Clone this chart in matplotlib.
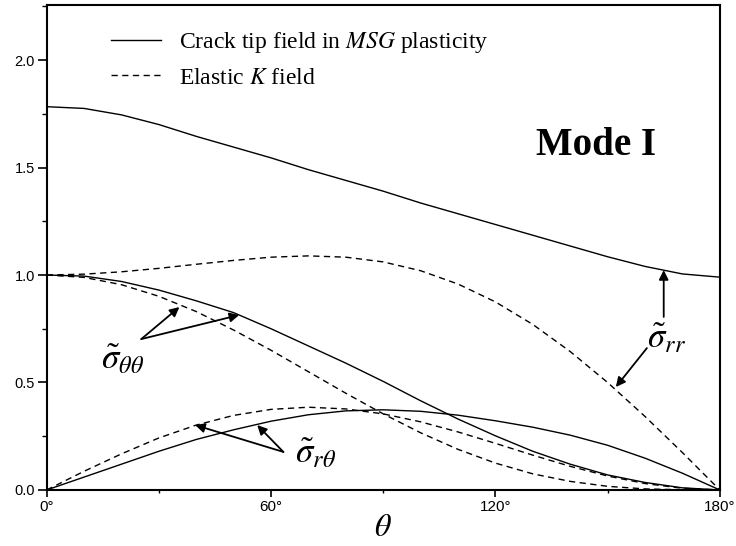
import matplotlib
matplotlib.use("Agg")
import matplotlib.pyplot as plt
from matplotlib.ticker import MultipleLocator, FixedLocator

plt.rcParams['mathtext.fontset'] = 'stix'
plt.rcParams['font.family'] = ['Liberation Serif', 'DejaVu Serif']

# angle (degrees)
theta = [0, 10, 20, 30, 40, 50, 60, 70, 80, 90,
         100, 110, 120, 130, 140, 150, 160, 170, 180]

# crack tip field in MSG plasticity (solid)
msg_rr = [1.783, 1.775, 1.745, 1.700, 1.645, 1.595, 1.545, 1.490, 1.440, 1.390,
          1.335, 1.285, 1.235, 1.185, 1.135, 1.085, 1.040, 1.005, 0.990]
msg_tt = [1.000, 0.995, 0.970, 0.930, 0.880, 0.825, 0.750, 0.670, 0.590, 0.505,
          0.415, 0.330, 0.252, 0.180, 0.120, 0.070, 0.035, 0.010, 0.000]
msg_rt = [0.000, 0.060, 0.120, 0.180, 0.235, 0.280, 0.320, 0.350, 0.368, 0.373,
          0.366, 0.348, 0.322, 0.292, 0.255, 0.208, 0.148, 0.078, 0.000]

# elastic K field (dashed)
k_rr = [1.000, 1.004, 1.015, 1.031, 1.050, 1.068, 1.083, 1.089, 1.083, 1.061,
        1.020, 0.958, 0.875, 0.770, 0.644, 0.500, 0.342, 0.174, 0.000]
k_tt = [1.000, 0.989, 0.955, 0.901, 0.830, 0.744, 0.650, 0.550, 0.450, 0.354,
        0.266, 0.189, 0.125, 0.075, 0.040, 0.017, 0.005, 0.001, 0.000]
k_rt = [0.000, 0.087, 0.168, 0.242, 0.302, 0.347, 0.375, 0.385, 0.377, 0.354,
        0.317, 0.270, 0.217, 0.162, 0.110, 0.065, 0.030, 0.008, 0.000]

x_ticks = [0, 60, 120, 180]
x_labels = ['0°', '60°', '120°', '180°']
y_ticks = [0.0, 0.5, 1.0, 1.5, 2.0]
y_labels = ['0.0', '0.5', '1.0', '1.5', '2.0']

fig = plt.figure(figsize=(7.36, 5.46), dpi=100)
ax = fig.add_axes([0.0634, 0.1026, 0.9146, 0.8882])

lw = 1.0
dash = (4.5, 3.2)
ax.plot(theta, msg_rr, color='black', lw=lw, label=r'Crack tip field in $\mathit{MSG}$ plasticity')
ax.plot(theta, k_rr, color='black', lw=lw, dashes=dash, label=r'Elastic $\mathit{K}$ field')
ax.plot(theta, msg_tt, color='black', lw=lw)
ax.plot(theta, k_tt, color='black', lw=lw, dashes=dash)
ax.plot(theta, msg_rt, color='black', lw=lw)
ax.plot(theta, k_rt, color='black', lw=lw, dashes=dash)

ax.set_xlim(0, 180)
ax.set_ylim(0, 2.256)

ax.xaxis.set_major_locator(FixedLocator(x_ticks))
ax.set_xticklabels(x_labels, family='Liberation Sans', fontsize=11)
ax.xaxis.set_minor_locator(MultipleLocator(30))
ax.set_yticks(y_ticks)
ax.set_yticklabels(y_labels, family='Liberation Sans', fontsize=10.5)
ax.yaxis.set_minor_locator(MultipleLocator(0.25))
ax.tick_params(axis='y', which='major', direction='out', length=6.5, width=1.2, pad=2)
ax.tick_params(axis='y', which='minor', direction='out', length=3.5, width=1.0)
ax.tick_params(axis='x', which='major', direction='out', length=5, width=1.2, pad=2)
ax.tick_params(axis='x', which='minor', direction='out', length=2.5, width=1.0)
for s in ax.spines.values():
    s.set_linewidth(1.5)

ax.set_xlabel(r'$\theta$', fontsize=23, labelpad=0)

leg = ax.legend(loc='upper left', bbox_to_anchor=(0.095, 0.948), frameon=False,
                fontsize=17, handlelength=2.15, handletextpad=0.75,
                labelspacing=0.5, borderpad=0, borderaxespad=0)

ax.text(147, 1.558, 'Mode I', fontsize=28, fontweight='bold', ha='center', va='baseline')

arr = dict(arrowstyle='-|>', color='black', lw=1.3, mutation_scale=14, shrinkA=0, shrinkB=0)

# sigma theta-theta
ax.text(14.5, 0.56, r'$\tilde{\sigma}_{\theta\theta}$', fontsize=25, ha='left', va='baseline')
ax.annotate('', xy=(35.5, 0.851), xytext=(25.3, 0.702), arrowprops=arr)
ax.annotate('', xy=(51.5, 0.814), xytext=(25.3, 0.702), arrowprops=arr)

# sigma r-theta
ax.text(66.5, 0.125, r'$\tilde{\sigma}_{r\theta}$', fontsize=25, ha='left', va='baseline')
ax.annotate('', xy=(39.7, 0.302), xytext=(63.3, 0.177), arrowprops=arr)
ax.annotate('', xy=(56.3, 0.302), xytext=(63.3, 0.177), arrowprops=arr)

# sigma r-r
ax.text(160.5, 0.66, r'$\tilde{\sigma}_{rr}$', fontsize=25, ha='left', va='baseline')
ax.annotate('', xy=(165, 1.023), xytext=(165, 0.805), arrowprops=arr)
ax.annotate('', xy=(152.2, 0.479), xytext=(160.5, 0.66), arrowprops=arr)

fig.savefig('out.png', dpi=100)
